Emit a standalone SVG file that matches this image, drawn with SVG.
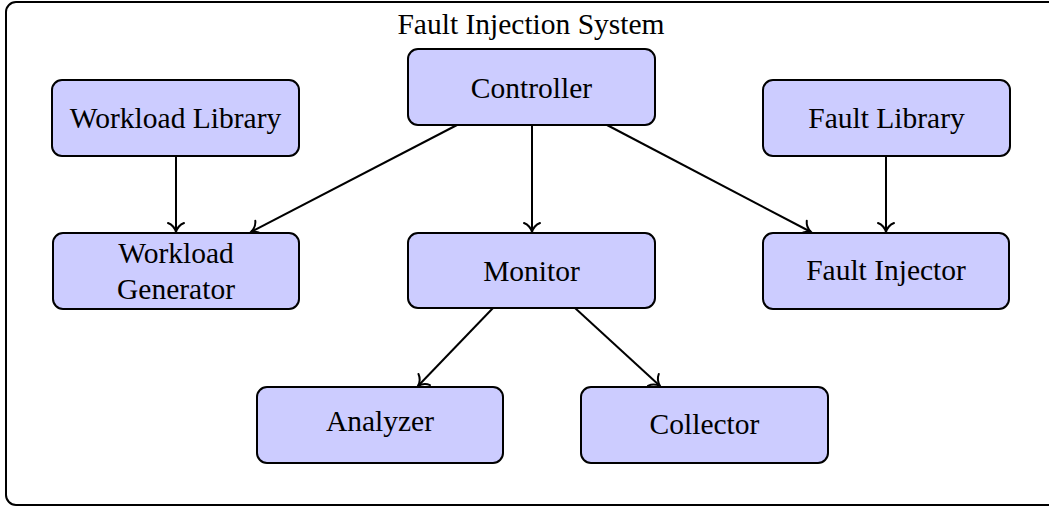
<svg xmlns="http://www.w3.org/2000/svg" width="1049" height="507" viewBox="0 0 1049 507">
  <style>
    .frame { fill: #ffffff; stroke: #000000; stroke-width: 2; }
    .box { fill: #ccccff; stroke: #000000; stroke-width: 2; }
    .label { font-family: "Liberation Serif", "Times New Roman", serif; font-size: 29.5px; fill: #000000; text-anchor: middle; }
    .edge { fill: none; stroke: #000000; stroke-width: 2; marker-end: url(#to); }
  </style>
  <defs>
    <marker id="to" markerUnits="userSpaceOnUse" markerWidth="24" markerHeight="24" viewBox="-12 -12 24 24" refX="0" refY="0" orient="auto">
      <path d="M -9 -8 C -7 -3 -2 -0.6 0 0 C -2 0.6 -7 3 -9 8" fill="none" stroke="#000000" stroke-width="2" stroke-linecap="round"/>
    </marker>
  </defs>

  <!-- system boundary -->
  <g id="system">
    <rect class="frame" x="6" y="2" width="1070" height="503" rx="10" ry="10"/>
    <text class="label" x="531" y="34">Fault Injection System</text>
  </g>

  <!-- connectors -->
  <g id="connectors">
    <line class="edge" x1="176" y1="156" x2="176" y2="232"/>
    <line class="edge" x1="457" y1="125" x2="251" y2="232"/>
    <line class="edge" x1="532" y1="125" x2="532" y2="232"/>
    <line class="edge" x1="607" y1="125" x2="811" y2="232"/>
    <line class="edge" x1="886" y1="156" x2="886" y2="232"/>
    <line class="edge" x1="493" y1="308" x2="418" y2="386"/>
    <line class="edge" x1="575" y1="308" x2="660" y2="386"/>
  </g>

  <g id="workload-library">
    <rect class="box" x="52" y="80" width="247" height="76" rx="10" ry="10"/>
    <text class="label" x="175.5" y="128">Workload Library</text>
  </g>

  <g id="controller">
    <rect class="box" x="408" y="49" width="247" height="76" rx="10" ry="10"/>
    <text class="label" x="531.5" y="98">Controller</text>
  </g>

  <g id="fault-library">
    <rect class="box" x="763" y="80" width="247" height="76" rx="10" ry="10"/>
    <text class="label" x="886.5" y="128">Fault Library</text>
  </g>

  <g id="workload-generator">
    <rect class="box" x="53" y="233" width="246" height="76" rx="10" ry="10"/>
    <text class="label" x="176" y="263">Workload</text>
    <text class="label" x="176" y="299">Generator</text>
  </g>

  <g id="monitor">
    <rect class="box" x="408" y="233" width="247" height="75" rx="10" ry="10"/>
    <text class="label" x="531.5" y="281">Monitor</text>
  </g>

  <g id="fault-injector">
    <rect class="box" x="763" y="233" width="246" height="76" rx="10" ry="10"/>
    <text class="label" x="886" y="280">Fault Injector</text>
  </g>

  <g id="analyzer">
    <rect class="box" x="257" y="387" width="246" height="76" rx="10" ry="10"/>
    <text class="label" x="380" y="431">Analyzer</text>
  </g>

  <g id="collector">
    <rect class="box" x="581" y="387" width="247" height="76" rx="10" ry="10"/>
    <text class="label" x="704.5" y="434">Collector</text>
  </g>
</svg>
